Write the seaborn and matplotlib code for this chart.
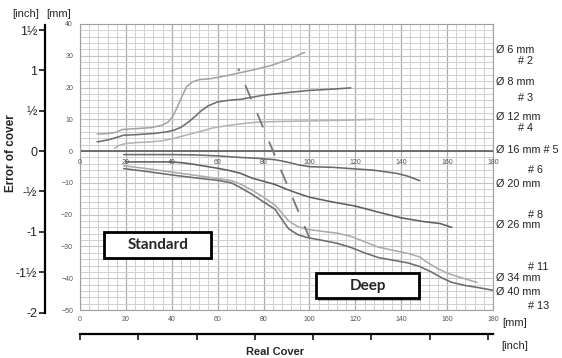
import numpy as np
import pandas as pd
import matplotlib
matplotlib.use("Agg")
import matplotlib.pyplot as plt
from matplotlib.patches import Rectangle
from matplotlib.ticker import MultipleLocator, FixedLocator
import seaborn as sns

# ---- data (mm) ----
d6_x = [7.5, 12, 15.5, 18.5, 25, 31, 36, 38.5, 40.5, 42.5, 44.5, 46.5, 49, 52, 57, 63, 70, 77, 84, 91, 98]
d6_y = [5.4, 5.5, 5.9, 6.8, 7.1, 7.4, 8.2, 9.2, 11.0, 14.0, 17.3, 20.3, 21.8, 22.5, 22.8, 23.6, 24.7, 25.8, 27.1, 28.9, 31.1]

d8_x = [7.5, 12, 15.5, 19, 25, 33, 38, 41, 44, 47, 50, 53, 56, 60, 65, 70, 80, 90, 100, 110, 118]
d8_y = [2.9, 3.5, 4.2, 5.0, 5.2, 5.6, 6.1, 6.6, 7.5, 9.0, 10.8, 12.8, 14.3, 15.5, 16.0, 16.3, 17.6, 18.4, 19.1, 19.5, 19.9]

d12_x = [15, 17, 20, 25, 31, 36, 41, 46, 52, 58, 64, 70, 77, 85, 100, 115, 128]
d12_y = [0.9, 1.8, 2.4, 2.7, 2.9, 3.3, 4.0, 5.0, 6.1, 7.3, 8.0, 8.6, 9.1, 9.3, 9.5, 9.7, 10.0]

d20_x = [19, 30, 40, 50, 60, 70, 78, 85, 90, 95, 100, 110, 120, 128, 138, 143, 148]
d20_y = [-1.1, -1.1, -1.1, -1.2, -1.5, -2.0, -2.3, -2.7, -3.4, -4.3, -4.9, -5.1, -5.6, -6.0, -7.0, -7.9, -9.3]

d26_x = [20, 30, 40, 45, 50, 55, 60, 65, 70, 75, 80, 85, 90, 95, 100, 110, 120, 130, 140, 150, 157, 162]
d26_y = [-3.4, -3.4, -3.4, -3.7, -4.2, -4.8, -5.4, -6.1, -7.0, -8.5, -9.5, -10.5, -12.0, -13.3, -14.5, -16.0, -17.3, -19.2, -21.0, -22.2, -22.8, -24.0]

d34_x = [19, 30, 40, 50, 60, 66, 70, 75, 80, 85, 88, 91, 95, 99, 105, 112, 118, 124, 130, 137, 143, 148, 152, 156, 160, 166, 173]
d34_y = [-4.6, -5.6, -6.6, -7.6, -8.6, -9.3, -10.4, -12.3, -14.5, -17.0, -19.5, -22.0, -23.8, -24.6, -25.2, -25.8, -26.8, -28.5, -30.2, -31.3, -32.2, -33.3, -35.3, -37.0, -38.4, -39.8, -41.3]

d40_x = [19, 30, 40, 50, 60, 66, 70, 75, 80, 85, 88, 91, 95, 99, 105, 112, 118, 124, 130, 137, 143, 148, 153, 158, 162, 168, 174, 180]
d40_y = [-5.5, -6.5, -7.5, -8.4, -9.2, -10.0, -11.5, -13.6, -16.0, -18.3, -21.5, -24.5, -26.3, -27.2, -28.0, -29.0, -30.3, -32.0, -33.5, -34.4, -35.2, -36.3, -38.0, -40.0, -41.3, -42.3, -43.0, -43.8]

# boundary standard / deep
split_x = [69, 100]
split_y = [26, -27.3]

bar_names = ["Ø 6", "Ø 8", "Ø 12", "Ø 20", "Ø 26", "Ø 34", "Ø 40"]
bar_colors = ["#a4a4a4", "#6e6e6e", "#b4b4b4", "#6a6a6a", "#5e5e5e", "#ababab", "#6c6c6c"]

mm_xticks = list(range(0, 181, 20))
mm_yticks = list(range(-50, 41, 10))
inch_yticks = [-2, -1.5, -1, -0.5, 0, 0.5, 1, 1.5]
inch_ylabels = ["-2", "-1½", "-1", "-½", "0", "½", "1", "1½"]
inch_xticks = list(range(0, 8))

right_labels = [
    ("Ø 6 mm", 31.8, 0), ("# 2", 28.3, 1), ("Ø 8 mm", 21.7, 0), ("# 3", 16.7, 1),
    ("Ø 12 mm", 10.7, 0), ("# 4", 7.2, 1), ("Ø 16 mm # 5", 0.3, 0), ("# 6", -6.0, 2),
    ("Ø 20 mm", -10.4, 0), ("# 8", -20.2, 2), ("Ø 26 mm", -23.3, 0), ("# 11", -36.5, 2),
    ("Ø 34 mm", -40.0, 0), ("Ø 40 mm", -44.4, 0), ("# 13", -48.8, 2),
]

curves = [(d6_x, d6_y), (d8_x, d8_y), (d12_x, d12_y), (d20_x, d20_y),
          (d26_x, d26_y), (d34_x, d34_y), (d40_x, d40_y)]
df = pd.concat(
    [pd.DataFrame({"cover": cx, "error": cy, "bar": n}) for n, (cx, cy) in zip(bar_names, curves)],
    ignore_index=True,
)

sns.set_style("white")
plt.rcParams["font.family"] = ["Liberation Sans", "DejaVu Sans"]

W, H = 562, 358
fig = plt.figure(figsize=(W / 100, H / 100), dpi=100)


def px_rect(l, t, r, b):
    return [l / W, 1 - b / H, (r - l) / W, (b - t) / H]


ax = fig.add_axes(px_rect(80, 24, 493, 310))
ax.set_xlim(0, 180)
ax.set_ylim(-50, 40)

ax.xaxis.set_major_locator(FixedLocator(mm_xticks))
ax.yaxis.set_major_locator(FixedLocator(mm_yticks))
ax.xaxis.set_minor_locator(MultipleLocator(4))
ax.yaxis.set_minor_locator(MultipleLocator(2))
ax.grid(which="minor", color="#d0d0d0", lw=0.7)
ax.grid(which="major", axis="y", color="#c4c4c4", lw=0.8)
ax.grid(which="major", axis="x", color="#acacac", lw=0.9)
ax.set_axisbelow(True)
ax.tick_params(which="both", length=0, labelsize=5, labelcolor="#555555")
ax.tick_params(axis="y", pad=5)
ax.tick_params(axis="x", pad=4)
for s in ax.spines.values():
    s.set_color("#a0a0a0")
    s.set_linewidth(0.8)

ax.axhline(0, color="#5a5a5a", lw=1.2, zorder=2)
for v in mm_xticks:
    ax.text(v, -3.6, str(v), ha="center", va="center", fontsize=5, color="#555555", zorder=3)

sns.lineplot(data=df, x="cover", y="error", hue="bar", palette=dict(zip(bar_names, bar_colors)),
             estimator=None, sort=False, legend=False, lw=1.15, ax=ax, zorder=4)
ax.set_xlabel("")
ax.set_ylabel("")
for ln in ax.get_lines():
    ln.set_solid_joinstyle("round")
    ln.set_solid_capstyle("round")

lw_split = 1.3
ax.plot(split_x, split_y, color="#777777", lw=lw_split,
        ls=(9 / lw_split, (11 / lw_split, 11 / lw_split)), zorder=5)

# Standard / Deep boxes
for (x0, y0, x1, y1, label) in [(10.6, -33.5, 57.1, -25.4, "Standard"),
                                (102.9, -46.3, 147.8, -38.4, "Deep")]:
    ax.add_patch(Rectangle((x0 + 0.8, y0 - 0.8), x1 - x0, y1 - y0, facecolor="#000000",
                           alpha=0.25, lw=0, zorder=6))
    ax.add_patch(Rectangle((x0, y0), x1 - x0, y1 - y0, facecolor="white",
                           edgecolor="black", lw=2, zorder=7))
    ax.text((x0 + x1) / 2, (y0 + y1) / 2, label, ha="center", va="center",
            fontsize=11, fontweight="bold", family=["Lato", "DejaVu Sans"], zorder=8)

# right-hand bar labels
x_off = [1.007, 1.060, 1.085]
for txt, yv, k in right_labels:
    ax.text(x_off[k], yv, txt, transform=ax.get_yaxis_transform(), ha="left", va="center",
            fontsize=7.8, color="#222222", clip_on=False)

# inch axis (left)
ext = 2.0
ax_iy = fig.add_axes(px_rect(45, 24, 46, 310 + ext * 286 / 90))
ax_iy.set_ylim((-50 - ext) / 25.4, 40 / 25.4)
ax_iy.patch.set_visible(False)
for k in ["top", "right", "bottom"]:
    ax_iy.spines[k].set_visible(False)
ax_iy.spines["left"].set_color("black")
ax_iy.spines["left"].set_linewidth(1.6)
ax_iy.spines["left"].set_bounds(-2, 1.56)
ax_iy.set_xticks([])
ax_iy.set_yticks(inch_yticks)
ax_iy.set_yticklabels(inch_ylabels)
ax_iy.tick_params(axis="y", direction="out", length=4, width=1.3, pad=1.5, labelsize=9, left=True)

# inch axis (bottom)
ax_ix = fig.add_axes(px_rect(80, 333, 493, 334))
ax_ix.set_xlim(0, 180 / 25.4)
ax_ix.patch.set_visible(False)
for k in ["top", "right", "left"]:
    ax_ix.spines[k].set_visible(False)
ax_ix.spines["bottom"].set_color("black")
ax_ix.spines["bottom"].set_linewidth(1.6)
ax_ix.set_yticks([])
ax_ix.set_xticks(inch_xticks)
ax_ix.set_xticklabels([])
ax_ix.tick_params(axis="x", direction="out", length=4.5, width=1.3, bottom=True)

# axis titles / units
fig.text(26 / W, 1 - 14 / H, "[inch]", ha="center", va="center", fontsize=8)
fig.text(59 / W, 1 - 14 / H, "[mm]", ha="center", va="center", fontsize=8)
fig.text(11 / W, 1 - 153 / H, "Error of cover", rotation=90, ha="center", va="center",
         fontsize=8.5, fontweight="bold")
fig.text(275 / W, 1 - 352 / H, "Real Cover", ha="center", va="center", fontsize=8, fontweight="bold")
fig.text(515 / W, 1 - 323 / H, "[mm]", ha="center", va="center", fontsize=8)
fig.text(515 / W, 1 - 346 / H, "[inch]", ha="center", va="center", fontsize=8)

fig.savefig("out.png", dpi=100)
